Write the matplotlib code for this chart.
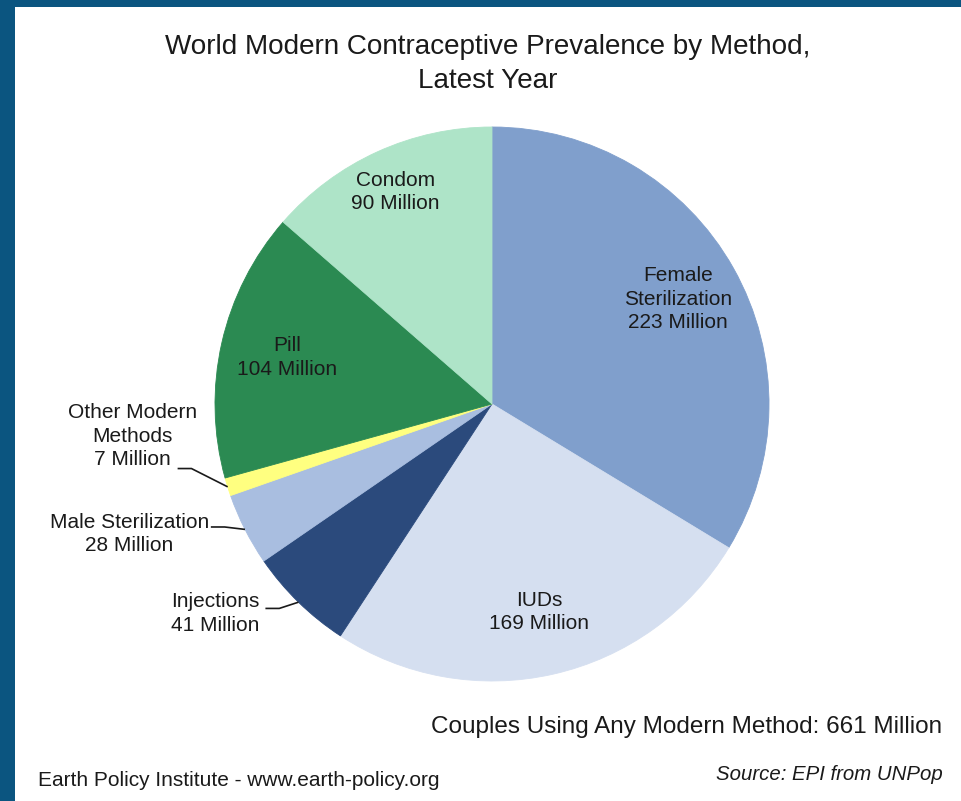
import numpy as np
import matplotlib
matplotlib.use("Agg")
import matplotlib.pyplot as plt
from matplotlib.patches import Rectangle

plt.rcParams['font.family'] = ['Liberation Sans', 'DejaVu Sans']

methods = ["Female\nSterilization", "IUDs", "Injections", "Male Sterilization",
           "Other Modern\nMethods", "Pill", "Condom"]
millions = [223, 169, 41, 28, 7, 104, 90]
colors = ["#809fcc", "#d5dff0", "#2b4a7c", "#a9bee0", "#ffff80", "#2b8a52", "#aee4c8"]

# inside labels: radial distance as a fraction of the radius (None = outside label)
inside_r = [0.77, 0.77, None, None, None, 0.76, 0.84]
# outside labels: text centre and leader start, in pie units
outside_pos = {
    2: ((-1.00, -0.756), (-0.818, -0.738)),
    3: ((-1.309, -0.469), (-1.015, -0.444)),
    4: ((-1.298, -0.116), (-1.135, -0.233)),
}

W, H = 961, 801
fig = plt.figure(figsize=(W / 100, H / 100), dpi=100, facecolor="#0b5580")
fig.add_artist(Rectangle((15 / W, 0), 1, (H - 7) / H, transform=fig.transFigure,
                         facecolor="white", edgecolor="none", zorder=0))

cx, cy, r = 492, 404, 277
ax = fig.add_axes([(cx - r) / W, (H - cy - r) / H, 2 * r / W, 2 * r / H])
wedges, _ = ax.pie(millions, colors=colors, startangle=90, counterclock=False,
                   wedgeprops=dict(linewidth=0))
for w in wedges:
    w.set_edgecolor(w.get_facecolor())
    w.set_linewidth(0.6)
ax.set_xlim(-1, 1)
ax.set_ylim(-1, 1)
ax.set_aspect("equal")
ax.axis("off")

txt_kw = dict(fontsize=15, color="#1a1a1a", ha="center", va="center", linespacing=1.3)
for i, w in enumerate(wedges):
    mid = np.deg2rad((w.theta1 + w.theta2) / 2)
    label = f"{methods[i]}\n{millions[i]} Million"
    if inside_r[i] is not None:
        ax.text(inside_r[i] * np.cos(mid), inside_r[i] * np.sin(mid), label, **txt_kw)
    else:
        (tx, ty), (lx, ly) = outside_pos[i]
        ax.text(tx, ty, label, clip_on=False, **txt_kw)
        ex, ey = np.cos(mid), np.sin(mid)
        ax.plot([lx, lx + 0.05, ex], [ly, ly, ey], color="#1a1a1a", lw=1.2,
                clip_on=False, solid_capstyle="butt")

fig.text(488 / W, 1 - 64 / H, "World Modern Contraceptive Prevalence by Method,\nLatest Year",
         ha="center", va="center", fontsize=20.1, color="#1a1a1a", linespacing=1.4)
fig.text(942 / W, 1 - 727 / H, "Couples Using Any Modern Method: 661 Million",
         ha="right", va="center", fontsize=17.5, color="#1a1a1a")
fig.text(38 / W, 1 - 781 / H, "Earth Policy Institute - www.earth-policy.org",
         ha="left", va="center", fontsize=15, color="#1a1a1a")
fig.text(943 / W, 1 - 775 / H, "Source: EPI from UNPop",
         ha="right", va="center", fontsize=14.7, color="#1a1a1a", style="italic")

fig.savefig("out.png", dpi=100, facecolor=fig.get_facecolor())
